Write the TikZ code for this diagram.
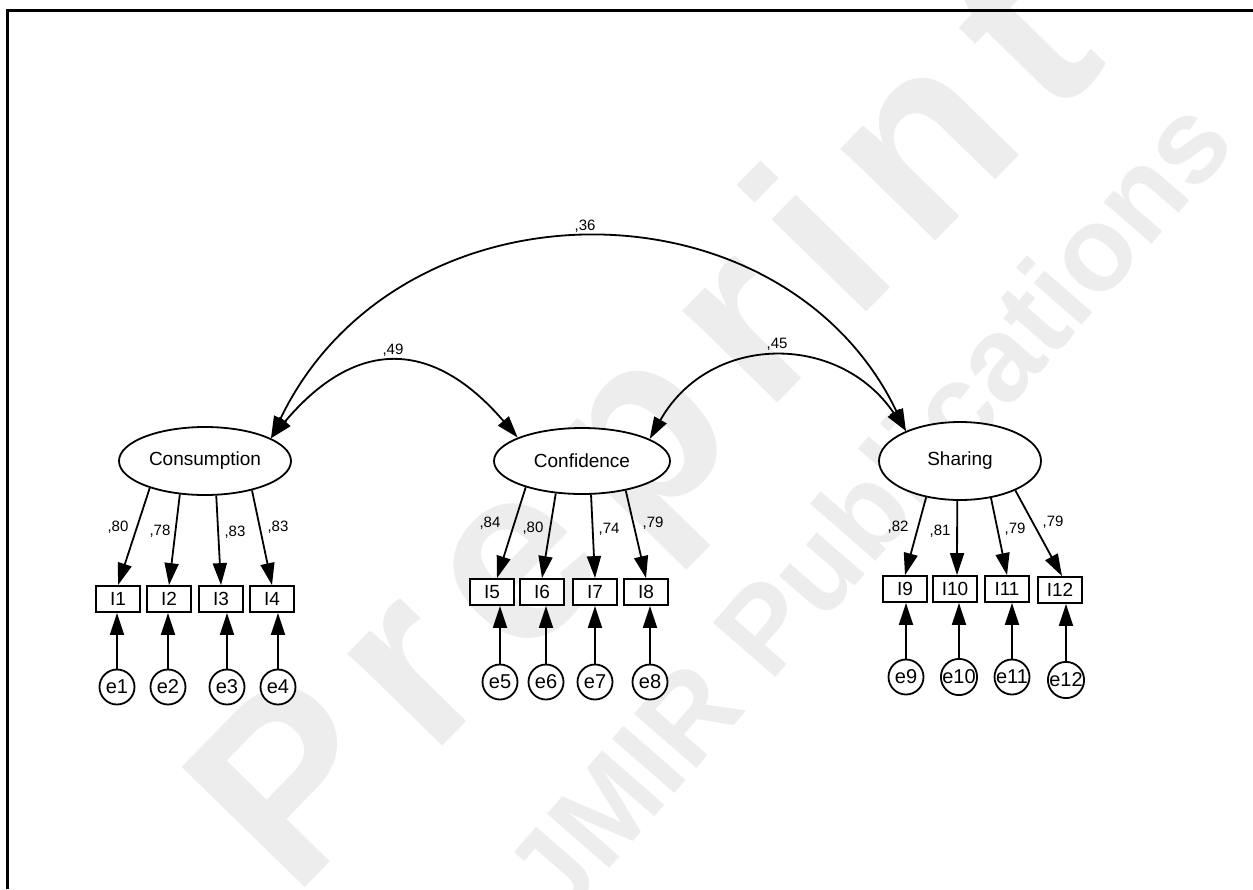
\documentclass[tikz,border=0pt]{standalone}
\usepackage{fontspec}
\setmainfont{Liberation Sans}
\usetikzlibrary{arrows.meta,shapes.geometric}
\begin{document}
\begin{tikzpicture}[x=1pt,y=-1pt,
  lv/.style={draw,ellipse,line width=1.8pt,fill=white,inner sep=0pt,font=\fontsize{19}{19}\selectfont},
  ind/.style={draw,rectangle,line width=1.8pt,fill=white,minimum width=44pt,minimum height=26pt,inner sep=0pt,font=\fontsize{19}{19}\selectfont},
  err/.style={draw,circle,line width=1.8pt,fill=white,minimum size=35pt,inner sep=0pt,font=\fontsize{20}{20}\selectfont},
  coef/.style={inner sep=0pt,font=\fontsize{15}{15}\selectfont},
  ld/.style={line width=1.8pt,-{Triangle[length=22pt,width=14pt]}},
  cv/.style={line width=1.8pt,{Triangle[length=22pt,width=14pt]}-{Triangle[length=22pt,width=14pt]}},
  wm/.style={text=black!7,inner sep=0pt}
]
\useasboundingbox (0,0) rectangle (1253,889);
\clip (0,0) rectangle (1253,889);
\fill[white] (0,0) rectangle (1253,889);
% watermark
\node[wm, rotate=45.7, font=\bfseries\fontsize{250}{250}\selectfont] (wmA) at (655,436) {P\kern30pt r\kern30pt e\kern30pt p\kern30pt r\kern30pt i\kern30pt n\kern30pt t};
\node[wm, rotate=49, font=\bfseries\fontsize{120}{120}\selectfont] (wmB) at (867,507) {JMIR Publications};
% frame
\draw[line width=3pt] (7.5,889) -- (7.5,10.5) -- (1253,10.5);
% latent variables
\node[lv, minimum width=172pt, minimum height=68pt] (cons) at (205,461) {Consumption};
\node[lv, minimum width=176pt, minimum height=66pt] (conf) at (582,461) {Confidence};
\node[lv, minimum width=162pt, minimum height=78pt] (shar) at (960,461) {Sharing};
% indicators
\node[ind] (I1) at (118,599) {I1};
\node[ind] (I2) at (169,599) {I2};
\node[ind] (I3) at (221,599) {I3};
\node[ind] (I4) at (272,599) {I4};
\node[ind] (I5) at (492,592) {I5};
\node[ind] (I6) at (542,592) {I6};
\node[ind] (I7) at (595,592) {I7};
\node[ind] (I8) at (646,592) {I8};
\node[ind] (I9) at (905,589) {I9};
\node[ind] (I10) at (955,589) {I10};
\node[ind] (I11) at (1007,589) {I11};
\node[ind] (I12) at (1060,590) {I12};
% errors
\node[err] (e1) at (117,687) {e1};
\node[err] (e2) at (168,687) {e2};
\node[err] (e3) at (227,687) {e3};
\node[err] (e4) at (278,687) {e4};
\node[err] (e5) at (500,682) {e5};
\node[err] (e6) at (546,682) {e6};
\node[err] (e7) at (595,682) {e7};
\node[err] (e8) at (650,682) {e8};
\node[err] (e9) at (906,677) {e9};
\node[err] (e10) at (959,677) {e10};
\node[err] (e11) at (1012,677) {e11};
\node[err] (e12) at (1066,680) {e12};
% error arrows
\foreach \k in {1,...,12}{
  \draw[ld] (e\k) -- (e\k |- I\k.south);
}
% loadings
\draw[ld] (cons.-154.7) -- (I1.north);
\draw[ld] (cons.-127.4) -- (I2.north);
\draw[ld] (cons.-72) -- (I3.north);
\draw[ld] (cons.-32.6) -- (I4.north);
\draw[ld] (conf.-155.4) -- ([xshift=5pt]I5.north);
\draw[ld] (conf.-129.5) -- (I6.north);
\draw[ld] (conf.-75.2) -- (I7.north);
\draw[ld] (conf.-34) -- (I8.north);
\draw[ld] (shar.-133.5) -- (I9.north);
\draw[ld] (shar.-94) -- ([xshift=2pt]I10.north);
\draw[ld] (shar.-50.6) -- (I11.north);
\draw[ld] (shar.-28) -- ([xshift=2pt]I12.north);
% loading labels
\node[coef] (c1) at (118,527) {,80};
\node[coef] (c2) at (160,531) {,78};
\node[coef] (c3) at (235,532) {,83};
\node[coef] (c4) at (278,527) {,83};
\node[coef] (c5) at (490,523) {,84};
\node[coef] (c6) at (533,528) {,80};
\node[coef] (c7) at (609,529) {,74};
\node[coef] (c8) at (653,523) {,79};
\node[coef] (c9) at (898,527) {,82};
\node[coef] (c10) at (940,531) {,81};
\node[coef] (c11) at (1015,529) {,79};
\node[coef] (c12) at (1053,522) {,79};
% covariances
\draw[cv] (cons.19) .. controls +(128,-265) and +(-123,-256) .. (shar.151.5);
\draw[cv] (cons.19) .. controls +(85,-101) and +(-85,-99) .. (conf.160.8);
\draw[cv] (conf.18) .. controls +(60,-106) and +(-67,-99) .. (shar.151.5);
\node[coef] (r36) at (585,226) {,36};
\node[coef] (r49) at (393,350) {,49};
\node[coef] (r45) at (777,344) {,45};
\end{tikzpicture}
\end{document}
